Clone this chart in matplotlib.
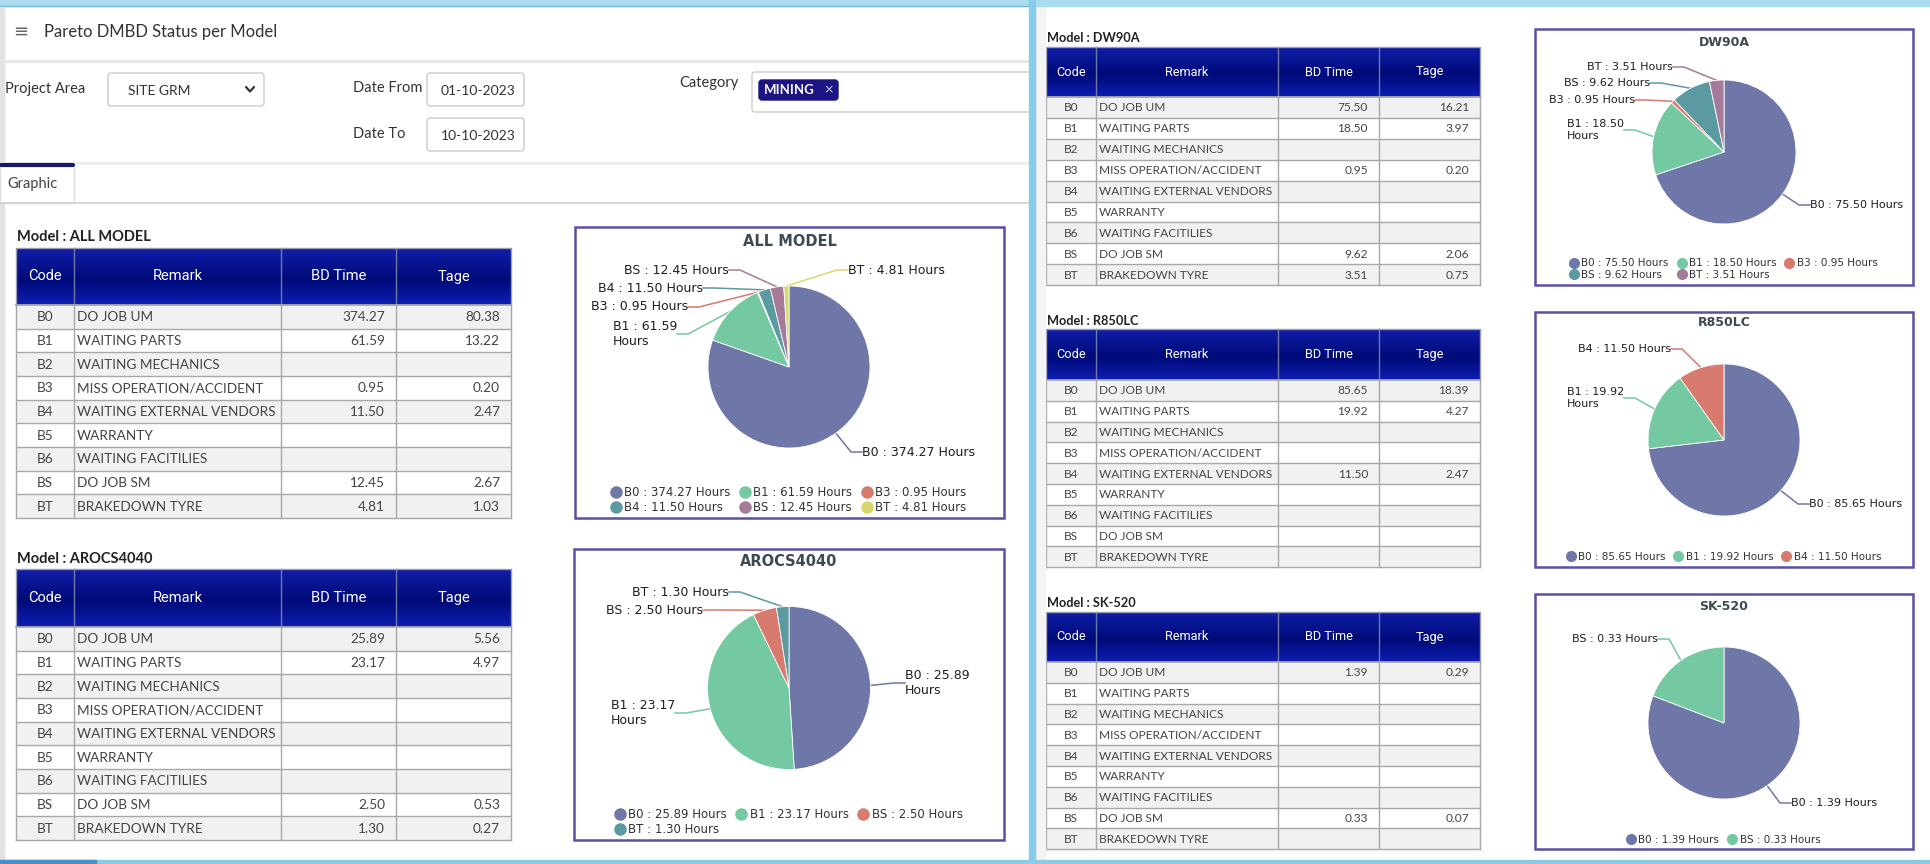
'''
Pareto DMBD status per model: tables + pie charts dashboard
'''
import numpy as np
import matplotlib
matplotlib.use('Agg')
import matplotlib.pyplot as plt
from matplotlib.patches import Rectangle, FancyBboxPatch
from matplotlib.lines import Line2D

# ---- data ----
codes = ['B0', 'B1', 'B2', 'B3', 'B4', 'B5', 'B6', 'BS', 'BT']
remarks = ['DO JOB UM', 'WAITING PARTS', 'WAITING MECHANICS', 'MISS OPERATION/ACCIDENT',
           'WAITING EXTERNAL VENDORS', 'WARRANTY', 'WAITING FACITILIES', 'DO JOB SM',
           'BRAKEDOWN TYRE']

all_time = [374.27, 61.59, None, 0.95, 11.50, None, None, 12.45, 4.81]
all_tage = [80.38, 13.22, None, 0.20, 2.47, None, None, 2.67, 1.03]
arocs_time = [25.89, 23.17, None, None, None, None, None, 2.50, 1.30]
arocs_tage = [5.56, 4.97, None, None, None, None, None, 0.53, 0.27]
dw90a_time = [75.50, 18.50, None, 0.95, None, None, None, 9.62, 3.51]
dw90a_tage = [16.21, 3.97, None, 0.20, None, None, None, 2.06, 0.75]
r850_time = [85.65, 19.92, None, None, 11.50, None, None, None, None]
r850_tage = [18.39, 4.27, None, None, 2.47, None, None, None, None]
sk_time = [1.39, None, None, None, None, None, None, 0.33, None]
sk_tage = [0.29, None, None, None, None, None, None, 0.07, None]

models = ['ALL MODEL', 'AROCS4040', 'DW90A', 'R850LC', 'SK-520']
times = {'ALL MODEL': all_time, 'AROCS4040': arocs_time, 'DW90A': dw90a_time,
         'R850LC': r850_time, 'SK-520': sk_time}
tages = {'ALL MODEL': all_tage, 'AROCS4040': arocs_tage, 'DW90A': dw90a_tage,
         'R850LC': r850_tage, 'SK-520': sk_tage}

# ---- style / layout (pixels) ----
palette = ['#6e77a8', '#74c9a2', '#d87a6e', '#5b9aa0', '#a67b9a', '#d6d86d']
left_cols = [16, 74, 281, 396, 511]
right_cols = [1046, 1096, 1278, 1379, 1480]
big = dict(fs_body=9.8, fs_head=10.5, fs_model=10.5, fs_lab=9, fs_leg=8.5, fs_title=10.5, ms=8)
small = dict(fs_body=8.6, fs_head=9.2, fs_model=9.2, fs_lab=8, fs_leg=7.5, fs_title=9, ms=7)
layout = {
    'ALL MODEL': dict(cols=left_cols, model_y=237, top=248, head=57, row=23.67,
                      box=(575, 227, 1004, 518), center=(789, 367), r=81, title_y=241,
                      labels={'BS': ('L', 729, 270), 'B4': ('L', 703, 288), 'B3': ('L', 688, 307),
                              'B1': ('L', 677, 334), 'BT': ('R', 848, 270), 'B0': ('R', 862, 452)},
                      wrap=['B1'], leg=(789, 500), st=big),
    'AROCS4040': dict(cols=left_cols, model_y=559, top=569, head=58, row=23.67,
                      box=(574, 549, 1004, 840), center=(789, 688), r=81.5, title_y=562,
                      labels={'BT': ('L', 729, 592), 'BS': ('L', 703, 610),
                              'B1': ('L', 675, 713), 'B0': ('R', 905, 683)},
                      wrap=['B1', 'B0'], leg=(789, 822), st=big),
    'DW90A': dict(cols=right_cols, model_y=38, top=47, head=50, row=20.9,
                  box=(1535, 29, 1913, 285), center=(1724, 152), r=72, title_y=42,
                  labels={'BT': ('L', 1673, 67), 'BS': ('L', 1650, 83), 'B3': ('L', 1635, 100),
                          'B1': ('L', 1624, 130), 'B0': ('R', 1810, 205)},
                  wrap=['B1'], leg=(1724, 269), st=small),
    'R850LC': dict(cols=right_cols, model_y=321, top=329, head=51, row=20.8,
                   box=(1535, 312, 1913, 567), center=(1724, 440), r=76, title_y=323,
                   labels={'B4': ('L', 1671, 349), 'B1': ('L', 1624, 398), 'B0': ('R', 1809, 504)},
                   wrap=['B1'], leg=(1724, 557), st=small),
    'SK-520': dict(cols=right_cols, model_y=603, top=612, head=50, row=20.8,
                   box=(1535, 594, 1913, 849), center=(1724, 723), r=76, title_y=606,
                   labels={'BS': ('L', 1658, 639), 'B0': ('R', 1791, 803)},
                   wrap=[], leg=(1724, 840), st=small),
}

W, H = 1930, 864
fig = plt.figure(figsize=(W / 100, H / 100), dpi=100)
fig.patch.set_facecolor('white')
ax = fig.add_axes([0, 0, 1, 1])
ax.set_xlim(0, W)
ax.set_ylim(H, 0)
ax.axis('off')


def hexrgb(c):
    c = c.lstrip('#')
    return [int(c[i:i + 2], 16) / 255. for i in (0, 2, 4)]


def gradient(stops, cols, n=80):
    t = np.linspace(0, 1, n)
    rgb = [np.interp(t, stops, [hexrgb(c)[k] for c in cols]) for k in range(3)]
    return np.dstack(rgb).reshape(n, 1, 3)


head_grad = gradient([0, 0.55, 1], ['#101ea8', '#000a78', '#0e1eb2'])

# ---- page chrome ----
ax.add_patch(Rectangle((0, 0), W, 6, color='#a9dcef', zorder=6))
ax.plot([0, 1028], [6, 6], color='#78b8d4', lw=1, zorder=6)
ax.add_patch(Rectangle((1029, 0), 6, H, color='#86cdec', zorder=6))
ax.add_patch(Rectangle((1035, 6), 10, H, color='#f4f4f4', zorder=5))
ax.add_patch(Rectangle((0, 8), 4, H, color='#e2e2e2', zorder=0.5))
ax.add_patch(Rectangle((0, 860), W, 4, color='#8ccbe5', zorder=6))
ax.add_patch(Rectangle((0, 860), 96, 4, color='#4a8fc8', zorder=6))

ax.text(13, 32, '\u2261', fontsize=13, color='#666666', va='center', ha='left')
ax.text(44, 32, 'Pareto DMBD Status per Model', fontsize=12, family='Lato',
        color='#333333', va='center', ha='left')
ax.plot([0, 1028], [61, 61], color='#e6e6e6', lw=2)


def input_box(x0, y0, x1, y1, r=3):
    p = FancyBboxPatch((x0, y0), x1 - x0, y1 - y0, boxstyle='round,pad=0,rounding_size=%d' % r,
                       fc='white', ec='#cccccc', lw=1, zorder=2)
    ax.add_patch(p)
    return p


ax.text(5, 89, 'Project Area', fontsize=10.5, family='Lato', color='#333333', va='center')
input_box(108, 73, 264, 106)
ax.text(128, 91, 'SITE GRM', fontsize=10, family='Lato', color='#333333', va='center', zorder=3)
# select chevron
ax.plot([246, 250, 254], [87, 91.5, 87], color='#333333', lw=1.6, zorder=3,
        solid_capstyle='round', solid_joinstyle='round')
ax.text(353, 88, 'Date From', fontsize=10.5, family='Lato', color='#333333', va='center')
input_box(427, 73, 524, 106)
t1 = ax.text(441, 91, '01-10-2023', fontsize=10, family='Lato', color='#333333', va='center', zorder=3)
t1.set_clip_path(Rectangle((427, 73), 94, 33, transform=ax.transData))
ax.text(353, 134, 'Date To', fontsize=10.5, family='Lato', color='#333333', va='center')
input_box(427, 118, 524, 151)
t2 = ax.text(441, 136, '10-10-2023', fontsize=10, family='Lato', color='#333333', va='center', zorder=3)
t2.set_clip_path(Rectangle((427, 118), 94, 33, transform=ax.transData))
ax.text(679, 83, 'Category', fontsize=10.5, family='Lato', color='#333333', va='center')
input_box(752, 72, 1045, 112)
ax.add_patch(FancyBboxPatch((759, 80), 79, 20, boxstyle='round,pad=0,rounding_size=3',
                            fc='#1c1482', ec='#1c1482', zorder=3))
ax.text(764, 90, 'MINING', fontsize=9.5, family='Lato', weight='bold', color='white',
        va='center', zorder=4)
ax.text(823, 90, '\u00d7', fontsize=9, color='#c8c8e8', va='center', zorder=4)

ax.plot([0, 1028], [163, 163], color='#eeeeee', lw=2)
ax.add_patch(Rectangle((0, 164), 74, 39, fc='white', ec='#dddddd', lw=1, zorder=2))
ax.plot([1, 73], [164.5, 164.5], color='#14186e', lw=3, solid_capstyle='round', zorder=3)
ax.text(7, 184, 'Graphic', fontsize=10.5, family='Lato', color='#444444', va='center', zorder=3)
ax.plot([74, 1028], [203, 203], color='#d0d0d0', lw=1.2)
ax.plot([0, 74], [203, 203], color='#d0d0d0', lw=1.2)


# ---- tables ----
def draw_table(name):
    L = layout[name]
    st = L['st']
    cols = L['cols']
    x0, x1 = cols[0], cols[-1]
    top, hh, rh = L['top'], L['head'], L['row']
    ax.text(x0 + 1, L['model_y'], 'Model : ' + name, fontsize=st['fs_model'], family='Lato',
            weight='bold', color='#222222', va='center', ha='left')
    ax.imshow(head_grad, extent=(x0, x1, top + hh, top), aspect='auto', zorder=2,
              interpolation='bilinear')
    heads = ['Code', 'Remark', 'BD Time', 'Tage']
    for j, h in enumerate(heads):
        ax.text((cols[j] + cols[j + 1]) / 2, top + hh / 2, h, fontsize=st['fs_head'],
                family='Roboto', color='white', ha='center', va='center', zorder=4)
    for xc in cols[1:-1]:
        ax.plot([xc, xc], [top, top + hh], color='#7078a8', lw=1, zorder=3)
    tm, tg = times[name], tages[name]
    for i in range(len(codes)):
        y = top + hh + i * rh
        fc = '#f1f1f1' if i % 2 == 0 else 'white'
        ax.add_patch(Rectangle((x0, y), x1 - x0, rh, fc=fc, ec='none', zorder=2))
        yc = y + rh / 2 + 0.5
        ax.text((cols[0] + cols[1]) / 2, yc, codes[i], fontsize=st['fs_body'], family='Lato',
                color='#444444', ha='center', va='center', zorder=4)
        ax.text(cols[1] + 3, yc, remarks[i], fontsize=st['fs_body'], family='Lato',
                color='#444444', ha='left', va='center', zorder=4)
        if tm[i] is not None:
            ax.text(cols[3] - 11, yc, '%.2f' % tm[i], fontsize=st['fs_body'], family='Lato',
                    color='#444444', ha='right', va='center', zorder=4)
        if tg[i] is not None:
            ax.text(cols[4] - 11, yc, '%.2f' % tg[i], fontsize=st['fs_body'], family='Lato',
                    color='#444444', ha='right', va='center', zorder=4)
    bottom = top + hh + len(codes) * rh
    for i in range(len(codes) + 1):
        y = top + hh + i * rh
        ax.plot([x0, x1], [y, y], color='#a8a8a8', lw=1.3 if i == 0 else 1, zorder=3)
    for xc in cols:
        ax.plot([xc, xc], [top + hh, bottom], color='#a8a8a8', lw=1, zorder=3)
    ax.plot([x0, x0, x1, x1], [top + hh, top, top, top + hh], color='#9a9ab0', lw=1, zorder=3)


# ---- pies ----
def draw_pie(name):
    L = layout[name]
    st = L['st']
    bx0, by0, bx1, by1 = L['box']
    ax.add_patch(Rectangle((bx0, by0), bx1 - bx0, by1 - by0, fc='white', ec='#5a4fa6',
                           lw=1.8, zorder=2))
    ax.text((bx0 + bx1) / 2, L['title_y'], name, fontsize=st['fs_title'], weight='bold',
            color='#3b4a54', ha='center', va='center', zorder=4)
    tm = times[name]
    vals = [t for t in tm if t is not None]
    labs = [codes[i] for i, t in enumerate(tm) if t is not None]
    cols = palette[:len(vals)]
    cx, cy = L['center']
    r = L['r']
    k = 1.1
    pax = fig.add_axes([(cx - k * r) / W, 1 - (cy + k * r) / H, 2 * k * r / W, 2 * k * r / H])
    pax.pie(vals, colors=cols, startangle=90, counterclock=False, radius=1,
            wedgeprops=dict(edgecolor='white', linewidth=0.6))
    pax.set_xlim(-k, k)
    pax.set_ylim(-k, k)
    pax.axis('off')

    total = float(sum(vals))
    cum = np.cumsum(vals)
    for v, c, code, cu in zip(vals, cols, labs, cum):
        phi = np.deg2rad(360. * (cu - v / 2.) / total)
        ex, ey = cx + r * np.sin(phi), cy - r * np.cos(phi)
        side, tx, ty = L['labels'][code]
        txt = '%s : %.2f Hours' % (code, v)
        if code in L['wrap']:
            txt = txt.replace(' Hours', '\nHours')
        if side == 'L':
            elbow = tx + 11
            ha = 'right'
        else:
            elbow = tx - 11
            ha = 'left'
        ax.plot([ex, elbow, tx], [ey, ty, ty], color=c, lw=1.1, zorder=5)
        ax.text(tx, ty, txt, fontsize=st['fs_lab'], family='DejaVu Sans', color='#1e1e1e',
                ha=ha, va='center', multialignment='left', linespacing=1.15, zorder=6)

    # legend: row-wise flow like the web chart
    ncol = min(3, len(vals))
    order = []
    for j in range(ncol):
        order += list(range(j, len(vals), ncol))
    handles = [Line2D([0], [0], marker='o', ls='', color=cols[i], ms=st['ms']) for i in order]
    texts = ['%s : %.2f Hours' % (labs[i], vals[i]) for i in order]
    pax.legend(handles, texts, loc='center', bbox_to_anchor=L['leg'], bbox_transform=ax.transData,
               ncol=ncol, frameon=False, fontsize=st['fs_leg'], handlelength=0.7,
               handletextpad=0.35, columnspacing=0.9, labelspacing=0.12, borderpad=0,
               borderaxespad=0, labelcolor='#333333')


for m in models:
    draw_table(m)
    draw_pie(m)

ax.set_xlim(0, W)
ax.set_ylim(H, 0)
fig.savefig('out.png', dpi=100)
